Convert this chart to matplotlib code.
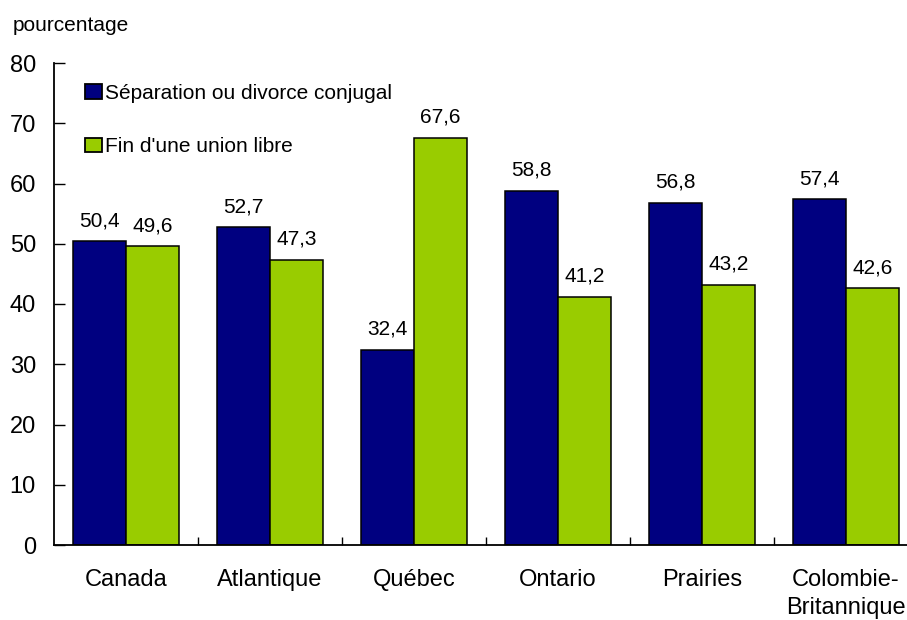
import matplotlib
matplotlib.use("Agg")
import matplotlib.pyplot as plt
import numpy as np
from matplotlib.patches import Patch

plt.rcParams['font.family'] = ['Liberation Sans', 'DejaVu Sans']

categories = ["Canada", "Atlantique", "Québec", "Ontario", "Prairies", "Colombie-\nBritannique"]
separation = [50.4, 52.7, 32.4, 58.8, 56.8, 57.4]
union_libre = [49.6, 47.3, 67.6, 41.2, 43.2, 42.6]
series_names = ["Séparation ou divorce conjugal", "Fin d'une union libre"]
value_labels_sep = ["50,4", "52,7", "32,4", "58,8", "56,8", "57,4"]
value_labels_ul = ["49,6", "47,3", "67,6", "41,2", "43,2", "42,6"]
yticks = [0, 10, 20, 30, 40, 50, 60, 70, 80]

navy = "#000080"
green = "#99CC00"

W, H = 907, 620
fig = plt.figure(figsize=(W / 100, H / 100), dpi=100)
ax = fig.add_axes([54 / W, 1 - 545 / H, (918 - 54) / W, (545 - 63) / H])

x = np.arange(len(categories))
bw = 0.368
b1 = ax.bar(x - bw / 2, separation, bw, color=navy, edgecolor="black", linewidth=1.1)
b2 = ax.bar(x + bw / 2, union_libre, bw, color=green, edgecolor="black", linewidth=1.1)

fs_val = 15
fs_tick = 17
fs_leg = 15
for rects, labs in ((b1, value_labels_sep), (b2, value_labels_ul)):
    for r, lab in zip(rects, labs):
        ax.annotate(lab, (r.get_x() + r.get_width() / 2, r.get_height()),
                    xytext=(0, 8), textcoords="offset points",
                    ha="center", va="bottom", fontsize=fs_val)

ax.set_xlim(-0.5, len(categories) - 0.5)
ax.set_ylim(0, 80)
ax.set_yticks(yticks)
ax.tick_params(axis="y", direction="in", length=8, width=1, labelsize=fs_tick, pad=13)

ax.set_xticks(x)
ax.set_xticklabels(categories, fontsize=fs_tick, va="top", linespacing=1.35)
ax.tick_params(axis="x", which="major", length=0, pad=17)
ax.set_xticks(np.arange(0.5, len(categories) - 0.5 + 1, 1.0), minor=True)
ax.tick_params(axis="x", which="minor", direction="in", length=6, width=1)

for s in ("top", "right"):
    ax.spines[s].set_visible(False)
for s in ("left", "bottom"):
    ax.spines[s].set_linewidth(1.3)
    ax.spines[s].set_color("black")

handles = [Patch(facecolor=navy, edgecolor="black", linewidth=1.3),
           Patch(facecolor=green, edgecolor="black", linewidth=1.3)]
ax.legend(handles, series_names, loc="upper left",
          bbox_to_anchor=(85 / W, 1 - 84 / H), bbox_transform=fig.transFigure,
          frameon=False, fontsize=fs_leg, labelspacing=1.65, handlelength=0.8,
          handleheight=0.7, handletextpad=0.15, borderaxespad=0, borderpad=0)

fig.text(13 / W, 1 - 31 / H, "pourcentage", fontsize=15, ha="left", va="baseline")

fig.savefig("out.png", dpi=100)
